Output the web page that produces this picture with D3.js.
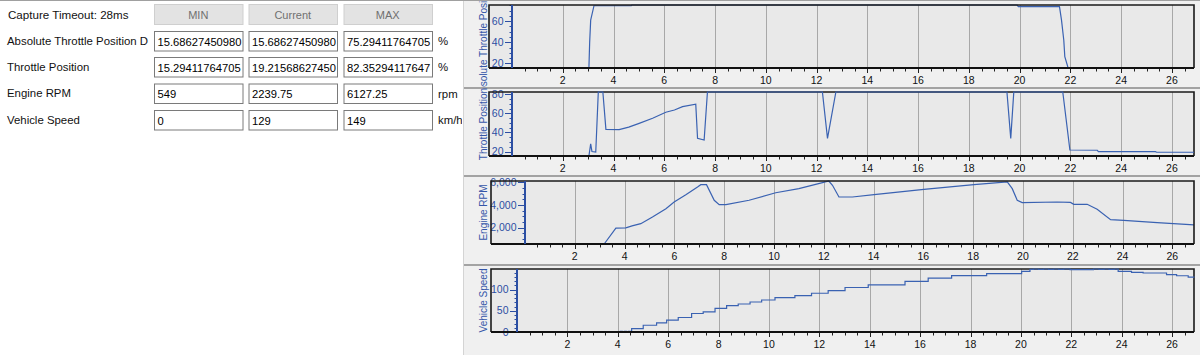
<!DOCTYPE html>
<html>
<head>
<meta charset="utf-8">
<script src="https://cdn.jsdelivr.net/npm/d3@7"></script>
<style>
body { margin: 0; background: #fff; }
svg { display: block; font-family: Arial, "Liberation Sans", sans-serif; }
</style>
</head>
<body>
<svg id="view" width="1200" height="355"></svg>
<script>
// ---- table on the left ----
const captureLabel = "Capture Timeout: 28ms";
const headers = ["MIN", "Current", "MAX"];
const rowLabels = ["Absolute Throttle Position D", "Throttle Position", "Engine RPM", "Vehicle Speed"];
const minValues = ["15.68627450980", "15.29411764705", "549", "0"];
const currentValues = ["15.68627450980", "19.21568627450", "2239.75", "129"];
const maxValues = ["75.29411764705", "82.35294117647", "6127.25", "149"];
const units = ["%", "%", "rpm", "km/h"];

// ---- charts: [time s, value] ----
const xTickValues = [2, 4, 6, 8, 10, 12, 14, 16, 18, 20, 22, 24, 26];
const timeEnd = 26.87;

const absThrottle = [
    [0, 15.69], [3.03, 15.69], [3.06, 40], [3.1, 61], [3.23, 74.6], [4.7, 74.6], [4.72, 75.29],
    [19.9, 75.29], [19.95, 73.8], [21.57, 73.7], [21.65, 61], [21.74, 42], [21.78, 26.4],
    [21.91, 15.69], [26.87, 15.69]
];
const throttlePos = [
    [0, 15.29], [3.03, 15.29], [3.1, 28], [3.15, 20], [3.3, 19.5], [3.4, 82.35], [3.58, 82.35],
    [3.7, 43.2], [4.22, 43], [4.6, 45.5], [5.01, 49.5], [5.54, 54.8], [6.06, 61.1], [6.4, 63.5],
    [6.72, 67], [7.24, 69.5], [7.31, 33.8], [7.57, 32], [7.7, 82.35], [12.23, 82.35], [12.43, 33.8],
    [12.76, 82.35], [19.5, 82.35], [19.65, 33.8], [19.77, 82.35], [21.7, 82.35], [21.98, 21.6],
    [23.06, 21.3], [23.1, 19.8], [25.35, 19.8], [25.4, 19.22], [26.87, 19.22]
];
const engineRpm = [
    [0, 549], [3.18, 549], [3.65, 1950], [4.05, 1980], [4.3, 2150], [4.65, 2350], [5.12, 2940],
    [5.66, 3680], [5.99, 4270], [6.46, 4915], [6.93, 5600], [7.06, 5800], [7.29, 5800], [7.6, 4420],
    [7.8, 4030], [8.07, 4030], [9.0, 4420], [10.07, 5090], [11.0, 5450], [11.95, 5980], [12.2, 6127],
    [12.35, 5750], [12.61, 4710], [13.15, 4710], [14.02, 4915], [16.02, 5390], [18.03, 5800],
    [19.37, 6040], [19.57, 5450], [19.77, 4420], [19.97, 4210], [21.38, 4270], [21.91, 4230],
    [22.04, 4065], [22.58, 4065], [22.98, 3620], [23.52, 2700], [24.05, 2640], [25.39, 2440],
    [26.87, 2240]
];
const vehicleSpeed = [
    [0, 0], [4.02, 0], [4.1, 1.6], [4.18, 0], [4.26, 1.6], [4.34, 0], [4.42, 1.6], [4.55, 8],
    [5.01, 16], [5.54, 21.5], [5.94, 27.9], [6.4, 34.3], [6.93, 43.8], [7.39, 47.8], [7.86, 55.8],
    [8.32, 62.2], [8.78, 66.2], [9.25, 70.9], [9.71, 75.7], [10.24, 81.3], [11.03, 86.1],
    [11.69, 91.7], [12.35, 98], [13.02, 105.2], [13.94, 111.6], [15.4, 119.5], [16.32, 127.5],
    [17.25, 133.1], [18.64, 137.9], [20.03, 143.5], [20.36, 148], [20.5, 149], [20.7, 148],
    [20.9, 149], [21.1, 148], [21.3, 149], [21.5, 148], [21.7, 149], [21.95, 147.5], [22.88, 149],
    [23.1, 148], [23.3, 149], [23.5, 148], [23.7, 149], [23.86, 143.5], [24.39, 141], [24.85, 139.5],
    [25.78, 135.5], [26.18, 133], [26.64, 130], [26.87, 129]
];

const absTicks = [20, 40, 60];
const throttleTicks = [20, 40, 60, 80];
const rpmTicks = [2000, 4000, 6000];
const speedTicks = [0, 50, 100];

const svg = d3.select("#view");
const blue = "#3a62b2";
const axisBlue = "#2c4fa3";

// left panel
svg.append("rect").attr("x", 0).attr("y", 0).attr("width", 463).attr("height", 355).attr("fill", "#fff");

const colX = [154, 248.5, 343.5];
const boxW = 88.5;
const rowY = [31, 57, 83.5, 110];

svg.append("text").attr("x", 8).attr("y", 18.5)
    .attr("font-size", "11.6px").attr("fill", "#111").text(captureLabel);

headers.forEach((h, i) => {
    svg.append("rect").attr("x", colX[i] + 0.5).attr("y", 4.5).attr("width", boxW).attr("height", 20)
        .attr("fill", "#e3e3e3").attr("stroke", "#cfcfcf");
    svg.append("text").attr("x", colX[i] + boxW / 2).attr("y", 18.5).attr("text-anchor", "middle")
        .attr("font-size", "11px").attr("fill", "#707070").text(h);
});

const left = svg.append("g");
left.append("clipPath").attr("id", "leftClip").append("rect").attr("width", 462).attr("height", 355);
const leftG = left.append("g").attr("clip-path", "url(#leftClip)");

rowLabels.forEach((label, r) => {
    const y = rowY[r];
    leftG.append("text").attr("x", 7).attr("y", y + 13.5)
        .attr("font-size", "11.4px").attr("fill", "#111").text(label);
    [minValues[r], currentValues[r], maxValues[r]].forEach((v, i) => {
        leftG.append("rect").attr("x", colX[i] + 0.5).attr("y", y + 0.5).attr("width", boxW).attr("height", 19.5)
            .attr("fill", "#fff").attr("stroke", "#7a7a7a");
        leftG.append("text").attr("x", colX[i] + 3.5).attr("y", y + 14.5)
            .attr("font-size", "11.2px").attr("fill", "#000").text(v);
    });
    leftG.append("text").attr("x", 438).attr("y", y + 14)
        .attr("font-size", "11.4px").attr("fill", "#111").text(units[r]);
});

// right panel
svg.append("rect").attr("x", 463).attr("y", 0).attr("width", 737).attr("height", 355).attr("fill", "#f0f0f0");
svg.append("line").attr("x1", 463.5).attr("x2", 463.5).attr("y1", 0).attr("y2", 355)
    .attr("stroke", "#d4d4d4");

const charts = [
    { title: "Absolute Throttle Position D", data: absThrottle, ticks: absTicks, minor: 5, row: 0,
      panel: [1, 88], frameLeft: 489, plotLeft: 512, top: 5, bottom: 68, lineOverFrame: false, step: false },
    { title: "Throttle Position", data: throttlePos, ticks: throttleTicks, minor: 5, row: 1,
      panel: [88, 176], frameLeft: 489, plotLeft: 512, top: 92, bottom: 156, lineOverFrame: true, step: false },
    { title: "Engine RPM", data: engineRpm, ticks: rpmTicks, minor: 500, row: 2,
      panel: [176, 265], frameLeft: 491, plotLeft: 525, top: 181, bottom: 244, lineOverFrame: false, step: false },
    { title: "Vehicle Speed", data: vehicleSpeed, ticks: speedTicks, minor: 10, row: 3,
      panel: [265, 355], frameLeft: 491, plotLeft: 517, top: 269, bottom: 332, lineOverFrame: true, step: true }
];
const plotRight = 1194;

charts.forEach((c, ci) => {
    const g = svg.append("g");
    const yMin = +minValues[c.row], yMax = +maxValues[c.row];

    g.append("rect").attr("x", 464).attr("y", c.panel[0]).attr("width", 736)
        .attr("height", c.panel[1] - c.panel[0]).attr("fill", "#f0f0f0");
    if (ci > 0) {
        g.append("line").attr("x1", 464).attr("x2", 1200).attr("y1", c.panel[0]).attr("y2", c.panel[0])
            .attr("stroke", "#a3a3a3").attr("stroke-width", 2);
    }

    const x = d3.scaleLinear().domain([0, timeEnd]).range([c.plotLeft, plotRight]);
    const y = d3.scaleLinear().domain([yMin, yMax]).range([c.bottom, c.top]);

    g.append("rect").attr("x", c.frameLeft).attr("y", c.top).attr("width", plotRight - c.frameLeft)
        .attr("height", c.bottom - c.top).attr("fill", "#e9e9e9");

    // gridlines
    g.selectAll(".grid").data(xTickValues).join("line")
        .attr("x1", d => Math.round(x(d)) + 0.5).attr("x2", d => Math.round(x(d)) + 0.5)
        .attr("y1", c.top).attr("y2", c.bottom)
        .attr("stroke", "#a8a8a8").attr("stroke-width", 1);

    // x minor ticks
    g.selectAll(".xminor").data(d3.range(0.5, timeEnd, 0.5)).join("line")
        .attr("x1", d => Math.round(x(d)) + 0.5).attr("x2", d => Math.round(x(d)) + 0.5)
        .attr("y1", c.bottom).attr("y2", d => c.bottom + (d % 2 === 0 ? 5 : 3.5))
        .attr("stroke", "#222").attr("stroke-width", 1);
    g.selectAll(".xlab").data(xTickValues).join("text")
        .attr("x", d => x(d)).attr("y", c.bottom + 15.5).attr("text-anchor", "middle")
        .attr("font-size", "10.5px").attr("fill", "#111").text(d => d);

    // y minor ticks
    const minorTicks = d3.range(Math.ceil(yMin / c.minor) * c.minor, yMax, c.minor);
    g.selectAll(".yminor").data(minorTicks).join("line")
        .attr("x1", c.plotLeft - 2.5).attr("x2", c.plotLeft)
        .attr("y1", d => Math.round(y(d)) + 0.5).attr("y2", d => Math.round(y(d)) + 0.5)
        .attr("stroke", axisBlue).attr("stroke-width", 1);
    g.selectAll(".ymajor").data(c.ticks).join("line")
        .attr("x1", c.plotLeft - 7).attr("x2", c.plotLeft)
        .attr("y1", d => Math.round(y(d)) + 0.5).attr("y2", d => Math.round(y(d)) + 0.5)
        .attr("stroke", axisBlue).attr("stroke-width", 1);
    g.selectAll(".ylab").data(c.ticks).join("text")
        .attr("x", c.plotLeft - 8.5).attr("y", d => y(d) + 3.6).attr("text-anchor", "end")
        .attr("font-size", "10.5px").attr("fill", axisBlue).text(d3.format(","));

    const line = d3.line().x(d => x(d[0])).y(d => y(d[1]))
        .curve(c.step ? d3.curveStepAfter : d3.curveLinear);

    const drawFrame = () => {
        g.append("path")
            .attr("d", `M${c.frameLeft},${c.bottom}V${c.top}H${plotRight}V${c.bottom}`)
            .attr("fill", "none").attr("stroke", "#1a1a1a").attr("stroke-width", 1.6);
    };
    if (c.lineOverFrame) drawFrame();
    g.append("path").datum(c.data).attr("d", line)
        .attr("fill", "none").attr("stroke", blue).attr("stroke-width", 1.2);
    if (!c.lineOverFrame) drawFrame();

    // x axis line and blue y axis
    g.append("line").attr("x1", c.frameLeft).attr("x2", plotRight).attr("y1", c.bottom).attr("y2", c.bottom)
        .attr("stroke", "#111").attr("stroke-width", 2);
    g.append("line").attr("x1", c.plotLeft).attr("x2", c.plotLeft).attr("y1", c.top).attr("y2", c.bottom)
        .attr("stroke", axisBlue).attr("stroke-width", 2);

    // y title (overflow is covered by the next panel)
    g.append("text")
        .attr("transform", `translate(487,${(c.top + c.bottom) / 2}) rotate(-90)`)
        .attr("text-anchor", "middle").attr("font-size", "10px").attr("fill", "#3556a8")
        .text(c.title);
});

// top border
svg.append("line").attr("x1", 0).attr("x2", 1200).attr("y1", 0.5).attr("y2", 0.5)
    .attr("stroke", "#a0a0a0");
</script>
</body>
</html>
